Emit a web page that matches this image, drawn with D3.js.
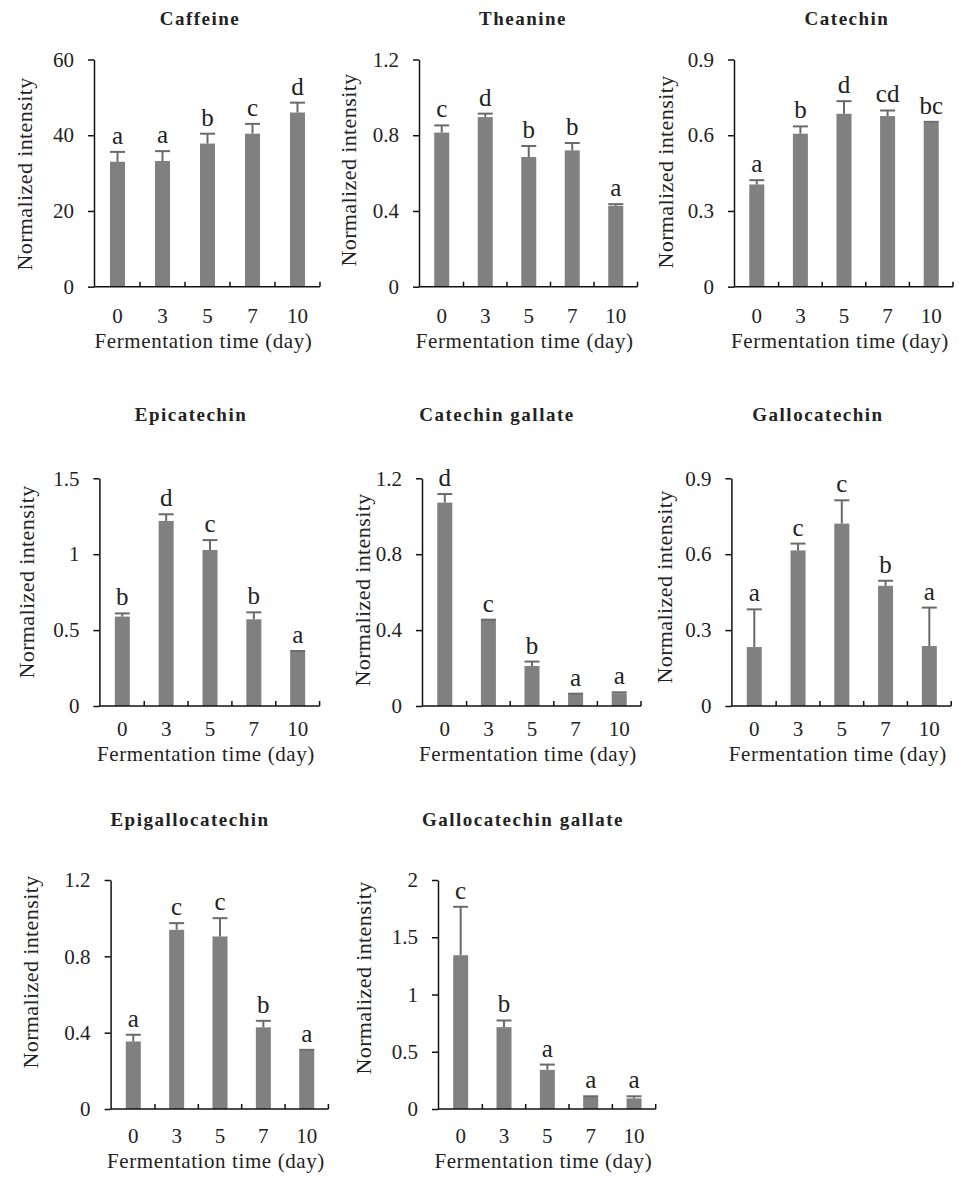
<!DOCTYPE html>
<html>
<head>
<meta charset="utf-8">
<script src="https://cdn.jsdelivr.net/npm/d3@7"></script>
<style>
  body { margin: 0; background: #fff; }
  svg { display: block; }
  text { font-family: "Liberation Serif", "Times New Roman", serif; fill: #222; }
</style>
</head>
<body>
<div id="chart"></div>
<script>
// fermentation days (categories)
var days = ["0", "3", "5", "7", "10"];

// normalized intensity, mean / error / significance letters
var caffeine = [33.0, 33.2, 37.8, 40.4, 46.0];
var caffeineErr = [2.6, 2.6, 2.6, 2.6, 2.6];
var caffeineSig = ["a", "a", "b", "c", "d"];

var theanine = [0.814, 0.896, 0.685, 0.72, 0.427];
var theanineErr = [0.038, 0.018, 0.058, 0.039, 0.009];
var theanineSig = ["c", "d", "b", "b", "a"];

var catechin = [0.405, 0.606, 0.685, 0.676, 0.65];
var catechinErr = [0.017, 0.029, 0.05, 0.022, 0.003];
var catechinSig = ["a", "b", "d", "cd", "bc"];

var epicatechin = [0.589, 1.219, 1.028, 0.571, 0.358];
var epicatechinErr = [0.021, 0.044, 0.065, 0.046, 0.004];
var epicatechinSig = ["b", "d", "c", "b", "a"];

var catechinGallate = [1.072, 0.453, 0.211, 0.063, 0.067];
var catechinGallateErr = [0.045, 0.002, 0.023, 0.002, 0.005];
var catechinGallateSig = ["d", "c", "b", "a", "a"];

var gallocatechin = [0.233, 0.615, 0.721, 0.475, 0.237];
var gallocatechinErr = [0.149, 0.027, 0.092, 0.02, 0.152];
var gallocatechinSig = ["a", "c", "c", "b", "a"];

var epigallocatechin = [0.354, 0.939, 0.904, 0.428, 0.307];
var epigallocatechinErr = [0.035, 0.035, 0.096, 0.034, 0.003];
var epigallocatechinSig = ["a", "c", "c", "b", "a"];

var gcg = [1.343, 0.715, 0.342, 0.108, 0.093];
var gcgErr = [0.423, 0.058, 0.046, 0.003, 0.018];
var gcgSig = ["c", "b", "a", "a", "a"];

// y tick labels per panel
var caffeineTicks = [0, 20, 40, 60];
var theanineTicks = [0, 0.4, 0.8, 1.2];
var catechinTicks = [0, 0.3, 0.6, 0.9];
var epicatechinTicks = [0, 0.5, 1, 1.5];
var gcgTicks = [0, 0.5, 1, 1.5, 2];

var panels = [
    {title: "Caffeine", values: caffeine, errors: caffeineErr, sig: caffeineSig, ticks: caffeineTicks},
    {title: "Theanine", values: theanine, errors: theanineErr, sig: theanineSig, ticks: theanineTicks},
    {title: "Catechin", values: catechin, errors: catechinErr, sig: catechinSig, ticks: catechinTicks},
    {title: "Epicatechin", values: epicatechin, errors: epicatechinErr, sig: epicatechinSig, ticks: epicatechinTicks},
    {title: "Catechin gallate", values: catechinGallate, errors: catechinGallateErr, sig: catechinGallateSig, ticks: theanineTicks},
    {title: "Gallocatechin", values: gallocatechin, errors: gallocatechinErr, sig: gallocatechinSig, ticks: catechinTicks},
    {title: "Epigallocatechin", values: epigallocatechin, errors: epigallocatechinErr, sig: epigallocatechinSig, ticks: theanineTicks},
    {title: "Gallocatechin gallate", values: gcg, errors: gcgErr, sig: gcgSig, ticks: gcgTicks}
];

// layout (pixels)
var rows = [
    {top: 59.5, bottom: 286.7, title: 25, tick: 323, xlab: 348},
    {top: 478.3, bottom: 706, title: 421, tick: 736, xlab: 761},
    {top: 880, bottom: 1109, title: 826, tick: 1143, xlab: 1168}
];
var layout = [
    {row: 0, x0: 95, x1: 320, titleX: 200, ylabX: 24, ylabY: 174},
    {row: 0, x0: 420, x1: 637.5, titleX: 523, ylabX: 348, ylabY: 170},
    {row: 0, x0: 735, x1: 953, titleX: 847, ylabX: 665, ylabY: 172},
    {row: 1, x0: 100.4, x1: 319.6, titleX: 191, ylabX: 26, ylabY: 582},
    {row: 1, x0: 423, x1: 641, titleX: 497, ylabX: 362, ylabY: 590},
    {row: 1, x0: 732.4, x1: 951.2, titleX: 818, ylabX: 664, ylabY: 587},
    {row: 2, x0: 111.6, x1: 328.4, titleX: 190, ylabX: 30, ylabY: 972},
    {row: 2, x0: 439, x1: 655.7, titleX: 523, ylabX: 363, ylabY: 978}
];

var serif = "'Liberation Serif', 'Times New Roman', serif";
var barColor = "#808080";
var errColor = "#6a6a6a";
var axisColor = "#111";

var svg = d3.select("#chart").append("svg")
    .attr("width", 959)
    .attr("height", 1177);

svg.append("rect").attr("width", 959).attr("height", 1177).attr("fill", "#fff");

panels.forEach(function(p, i) {
    var L = layout[i];
    var R = rows[L.row];
    var g = svg.append("g");

    var x = d3.scaleBand().domain(days).range([L.x0, L.x1]);
    var y = d3.scaleLinear()
        .domain([0, d3.max(p.ticks)])
        .range([R.bottom, R.top]);
    var axisX = L.x0 - 1;
    var barW = 15;
    var data = days.map(function(d, j) {
        return {day: d, v: p.values[j], e: p.errors[j], s: p.sig[j]};
    });

    // title
    g.append("text")
        .attr("x", L.titleX)
        .attr("y", R.title)
        .attr("text-anchor", "middle")
        .style("font-family", serif)
        .style("font-size", "19px")
        .style("font-weight", "bold")
        .style("letter-spacing", "1.5px")
        .text(p.title);

    // bars
    g.selectAll("rect.bar")
        .data(data)
        .enter()
        .append("rect")
        .classed("bar", true)
        .attr("x", function(d) { return x(d.day) + x.bandwidth() / 2 - barW / 2; })
        .attr("width", barW)
        .attr("y", function(d) { return y(d.v); })
        .attr("height", function(d) { return y(0) - y(d.v); })
        .attr("fill", barColor);

    // error bars (upper only)
    var err = g.selectAll("g.err")
        .data(data)
        .enter()
        .append("g")
        .classed("err", true)
        .attr("transform", function(d) {
            return "translate(" + (x(d.day) + x.bandwidth() / 2) + ",0)";
        });
    err.append("line")
        .attr("x1", 0).attr("x2", 0)
        .attr("y1", function(d) { return y(d.v); })
        .attr("y2", function(d) { return y(d.v + d.e); })
        .attr("stroke", errColor)
        .attr("stroke-width", 2);
    err.append("line")
        .attr("x1", -barW / 2).attr("x2", barW / 2)
        .attr("y1", function(d) { return y(d.v + d.e); })
        .attr("y2", function(d) { return y(d.v + d.e); })
        .attr("stroke", errColor)
        .attr("stroke-width", 2);

    // significance letters
    g.selectAll("text.sig")
        .data(data)
        .enter()
        .append("text")
        .classed("sig", true)
        .attr("x", function(d) { return x(d.day) + x.bandwidth() / 2; })
        .attr("y", function(d) { return y(d.v + d.e) - 8; })
        .attr("text-anchor", "middle")
        .style("font-family", serif)
        .style("font-size", "25px")
        .text(function(d) { return d.s; });

    // y axis
    var yAxis = g.append("g")
        .attr("transform", "translate(" + axisX + ",0)")
        .call(d3.axisLeft(y)
            .tickValues(p.ticks)
            .tickFormat(function(v) { return String(v); })
            .tickSize(6)
            .tickSizeOuter(0)
            .tickPadding(14));
    yAxis.select(".domain").attr("stroke", axisColor).attr("stroke-width", 1.5);
    yAxis.selectAll(".tick line").attr("stroke", axisColor).attr("stroke-width", 1.5);
    yAxis.selectAll(".tick text")
        .attr("fill", "#222")
        .style("font-family", serif)
        .style("font-size", "21px");

    // x axis: labels at band centres, ticks between categories pointing up
    var xAxis = g.append("g")
        .attr("transform", "translate(0," + R.bottom + ")")
        .call(d3.axisBottom(x).tickSize(0).tickSizeOuter(0).tickPadding(0));
    xAxis.select(".domain").remove();
    xAxis.selectAll(".tick text")
        .attr("y", R.tick - R.bottom)
        .attr("dy", 0)
        .attr("fill", "#222")
        .style("font-family", serif)
        .style("font-size", "21px");

    g.append("line")
        .attr("x1", axisX).attr("x2", L.x1)
        .attr("y1", R.bottom).attr("y2", R.bottom)
        .attr("stroke", axisColor)
        .attr("stroke-width", 1.5);
    g.selectAll("line.xtick")
        .data(days)
        .enter()
        .append("line")
        .classed("xtick", true)
        .attr("x1", function(d) { return x(d) + x.bandwidth(); })
        .attr("x2", function(d) { return x(d) + x.bandwidth(); })
        .attr("y1", R.bottom)
        .attr("y2", R.bottom - 5)
        .attr("stroke", axisColor)
        .attr("stroke-width", 1.5);

    // axis titles
    g.append("text")
        .attr("x", (L.x0 + L.x1) / 2 - 4)
        .attr("y", R.xlab)
        .attr("text-anchor", "middle")
        .style("font-family", serif)
        .style("font-size", "21px")
        .style("letter-spacing", "0.6px")
        .text("Fermentation time (day)");

    g.append("text")
        .attr("transform", "translate(" + L.ylabX + "," + L.ylabY + ") rotate(-90)")
        .attr("text-anchor", "middle")
        .attr("dy", "0.35em")
        .style("font-family", serif)
        .style("font-size", "22px")
        .style("letter-spacing", "0.4px")
        .text("Normalized intensity");
});
</script>
</body>
</html>
